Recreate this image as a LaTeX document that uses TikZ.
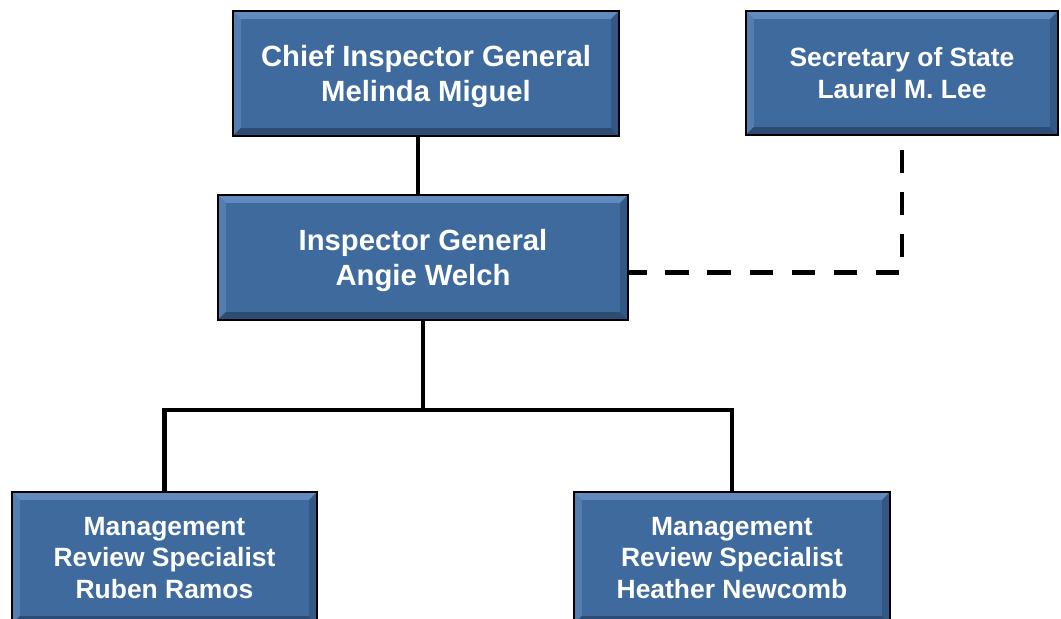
\documentclass[tikz,border=0pt]{standalone}
\usepackage{fontspec}
\setmainfont{Liberation Sans}
\definecolor{boxfill}{RGB}{62,106,158}
\definecolor{boxhi}{RGB}{98,138,190}
\definecolor{boxlo}{RGB}{44,76,116}
\tikzset{bevel/.style={path picture={
  \path (path picture bounding box.north west) coordinate (a) (path picture bounding box.north east) coordinate (b)
        (path picture bounding box.south east) coordinate (c) (path picture bounding box.south west) coordinate (d);
  \fill[boxhi] (a) -- (b) -- ([shift={(-.2cm,-.2cm)}]b) -- ([shift={(.2cm,-.2cm)}]a) -- cycle;
  \fill[boxhi!60!boxfill] (a) -- ([shift={(.2cm,-.2cm)}]a) -- ([shift={(.2cm,.2cm)}]d) -- (d) -- cycle;
  \fill[boxlo] (c) -- (d) -- ([shift={(.2cm,.2cm)}]d) -- ([shift={(-.2cm,.2cm)}]c) -- cycle;
  \fill[boxlo!60!boxfill] (b) -- (c) -- ([shift={(-.2cm,.2cm)}]c) -- ([shift={(-.2cm,-.2cm)}]b) -- cycle;}}}

\begin{document}
\begin{tikzpicture}[x=0.025cm,y=-0.025cm,box/.style={draw=black, line width=2pt, fill=boxfill, text=white, align=center, inner sep=0pt, bevel},bigtext/.style={font=\fontsize{20.8}{24.5}\selectfont\bfseries, text depth=-4pt},smalltext/.style={font=\fontsize{18.8}{22.6}\selectfont\bfseries},link/.style={line width=3.2pt},dashlink/.style={line width=3.2pt, dash pattern=on 16.5pt off 13.4pt, dash phase=20.6pt}]
\useasboundingbox (0,0) rectangle (1061,619);
\node[box, bigtext, minimum width=9.65cm, minimum height=3.125cm] (chief) at (426,73.5) {Chief Inspector General\\Melinda Miguel};
\node[box, smalltext, minimum width=7.8cm, minimum height=3.1cm] (sec) at (902,73) {Secretary of State\\Laurel M. Lee};
\node[box, bigtext, minimum width=10.25cm, minimum height=3.125cm] (ig) at (423,257.5) {Inspector General\\Angie Welch};
\node[box, smalltext, minimum width=7.625cm, minimum height=3.3cm] (ruben) at (164.5,558) {Management\\Review Specialist\\Ruben Ramos};
\node[box, smalltext, minimum width=7.9cm, minimum height=3.3cm] (heather) at (732,558) {Management\\Review Specialist\\Heather Newcomb};
\coordinate (bar) at (420,410);
\draw[link] ([xshift=-.2cm]chief.south) -- ([xshift=-.2cm]chief.south |- ig.north);
\draw[link] (ig.south) -- (ig.south |- bar);
\draw[link] (ruben.north) |- (bar) -| (heather.north);
\draw[dashlink] (sec.south) |- ([yshift=-.375cm]ig.east);
\end{tikzpicture}
\end{document}
